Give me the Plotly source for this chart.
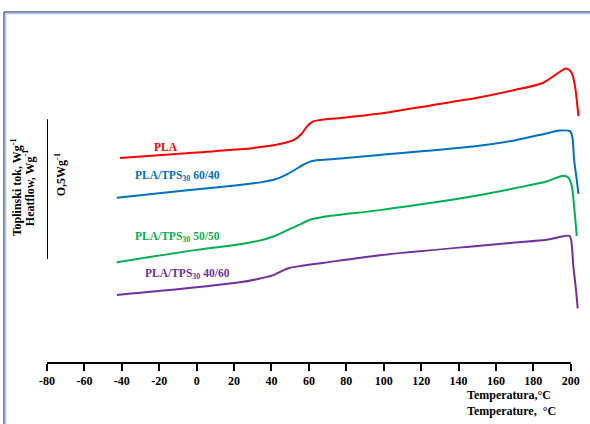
import plotly.graph_objects as go

# DSC heating curves: temperature (°C) vs heat flow (W/g, curves offset vertically)
pla_t = [-41.0, 0.0, 23.0, 35.0, 45.0, 52.0, 56.0, 59.0, 62.0, 66.0, 77.0, 98.0,
         125.0, 150.0, 170.0, 185.0, 192.0, 197.5, 200.5, 202.3, 203.2, 204.1]
pla_hf = [0.732, 0.752, 0.763, 0.772, 0.783, 0.797, 0.818, 0.845, 0.862, 0.868, 0.875, 0.891,
          0.920, 0.947, 0.975, 1.000, 1.030, 1.052, 1.036, 0.987, 0.939, 0.882]

b6040_t = [-42.7, -5.0, 23.0, 35.0, 42.0, 48.0, 53.0, 57.0, 61.0, 66.0, 77.0, 98.0,
           150.0, 170.0, 187.0, 194.0, 199.6, 200.8, 201.8, 203.2, 204.1]
b6040_hf = [0.590, 0.617, 0.636, 0.646, 0.656, 0.673, 0.692, 0.708, 0.720, 0.725, 0.730, 0.743,
            0.775, 0.795, 0.820, 0.830, 0.828, 0.808, 0.725, 0.654, 0.604]

b5050_t = [-42.7, 0.0, 23.0, 34.0, 41.0, 48.0, 55.0, 60.0, 68.0, 98.0,
           150.0, 170.0, 187.0, 196.0, 198.7, 200.5, 201.8, 203.2]
b5050_hf = [0.360, 0.404, 0.424, 0.438, 0.452, 0.473, 0.494, 0.510, 0.522, 0.546,
            0.598, 0.624, 0.648, 0.669, 0.662, 0.633, 0.558, 0.454]

b4060_t = [-42.6, -9.0, 23.0, 34.0, 41.0, 46.0, 50.0, 55.0, 68.0, 98.0,
           150.0, 170.0, 187.0, 194.0, 199.3, 200.2, 201.4, 202.8, 203.7]
b4060_hf = [0.243, 0.264, 0.288, 0.302, 0.314, 0.330, 0.340, 0.346, 0.358, 0.385,
            0.418, 0.430, 0.440, 0.450, 0.454, 0.439, 0.344, 0.261, 0.195]

x_ticks = [-80, -60, -40, -20, 0, 20, 40, 60, 80, 100, 120, 140, 160, 180, 200]
x_tick_text = [str(v) for v in x_ticks]
scale_bar = [0.371, 0.871]  # 0.5 W/g reference bar

series = [
    ("PLA", pla_t, pla_hf, "#ff0000", -24.0, 0.7725),
    ("PLA/TPS<sub>30</sub> 60/40", b6040_t, b6040_hf, "#0070c0", -33.9, 0.669),
    ("PLA/TPS<sub>30</sub> 50/50", b5050_t, b5050_hf, "#00b050", -33.9, 0.449),
    ("PLA/TPS<sub>30</sub> 40/60", b4060_t, b4060_hf, "#7030a0", -28.8, 0.317),
]

serif = "Liberation Serif"
fig = go.Figure()
annotations = []
for name, t, hf, color, lx, ly in series:
    fig.add_trace(go.Scatter(x=t, y=hf, mode="lines", name=name,
                             line=dict(color=color, width=2, shape="spline", smoothing=0.8),
                             showlegend=False, hoverinfo="skip"))
    annotations.append(dict(x=lx, y=ly, xref="x", yref="y", text=name, showarrow=False,
                            xanchor="left", yanchor="middle",
                            font=dict(family=serif, size=11.5, color=color, weight="bold")))

# Axis titles / scale bar label
lab_font = dict(family=serif, size=12, color="black", weight="bold")
annotations += [
    dict(x=-0.057, y=0.499, xref="paper", yref="paper", text="Toplinski tok, Wg<sup>-1</sup>",
         textangle=-90, showarrow=False, xanchor="center", yanchor="middle", font=lab_font),
    dict(x=-0.033, y=0.499, xref="paper", yref="paper", text="Heatflow, Wg<sup>-1</sup>",
         textangle=-90, showarrow=False, xanchor="center", yanchor="middle", font=lab_font),
    dict(x=0.025, y=0.536, xref="paper", yref="paper", text="O,5Wg<sup>-1</sup>",
         textangle=-90, showarrow=False, xanchor="center", yanchor="middle", font=lab_font),
    dict(x=0.782, y=-0.065, xref="paper", yref="paper",
         text="Temperatura,°C<br>Temperature,  °C", align="left",
         showarrow=False, xanchor="left", yanchor="top", font=lab_font),
]

shapes = [
    # x axis line
    dict(type="line", xref="x", yref="paper", x0=-80, x1=200, y0=0, y1=0,
         line=dict(color="black", width=2)),
    # 0.5 W/g scale bar
    dict(type="line", xref="x", yref="y", x0=-80, x1=-80, y0=scale_bar[0], y1=scale_bar[1],
         line=dict(color="black", width=2)),
    # outer frame (top and left)
    dict(type="line", xref="paper", yref="paper", x0=-0.081, x1=1.02, y0=1.0, y1=1.0,
         line=dict(color="#4a6796", width=1.5)),
    dict(type="line", xref="paper", yref="paper", x0=-0.078, x1=1.02, y0=0.996, y1=0.996,
         line=dict(color="#b3c5df", width=1.5)),
    dict(type="line", xref="paper", yref="paper", x0=-0.0804, x1=-0.0804, y0=1.0, y1=-0.2,
         line=dict(color="#4a6796", width=1.5)),
    dict(type="line", xref="paper", yref="paper", x0=-0.0776, x1=-0.0776, y0=0.996, y1=-0.2,
         line=dict(color="#b3c5df", width=1.5)),
]

fig.update_layout(
    width=590, height=424,
    margin=dict(l=47, r=8, t=12, b=61),
    paper_bgcolor="white", plot_bgcolor="white",
    xaxis=dict(range=[-80, 206], tickvals=x_ticks, ticktext=x_tick_text, ticks="outside",
               ticklen=7, tickwidth=2, tickcolor="black", showline=False, showgrid=False,
               zeroline=False,
               tickfont=dict(family=serif, size=12, color="black", weight="bold")),
    yaxis=dict(range=[0, 1.2536], visible=False, showgrid=False, zeroline=False),
    annotations=annotations,
    shapes=shapes,
)

fig.write_html("out.html")
